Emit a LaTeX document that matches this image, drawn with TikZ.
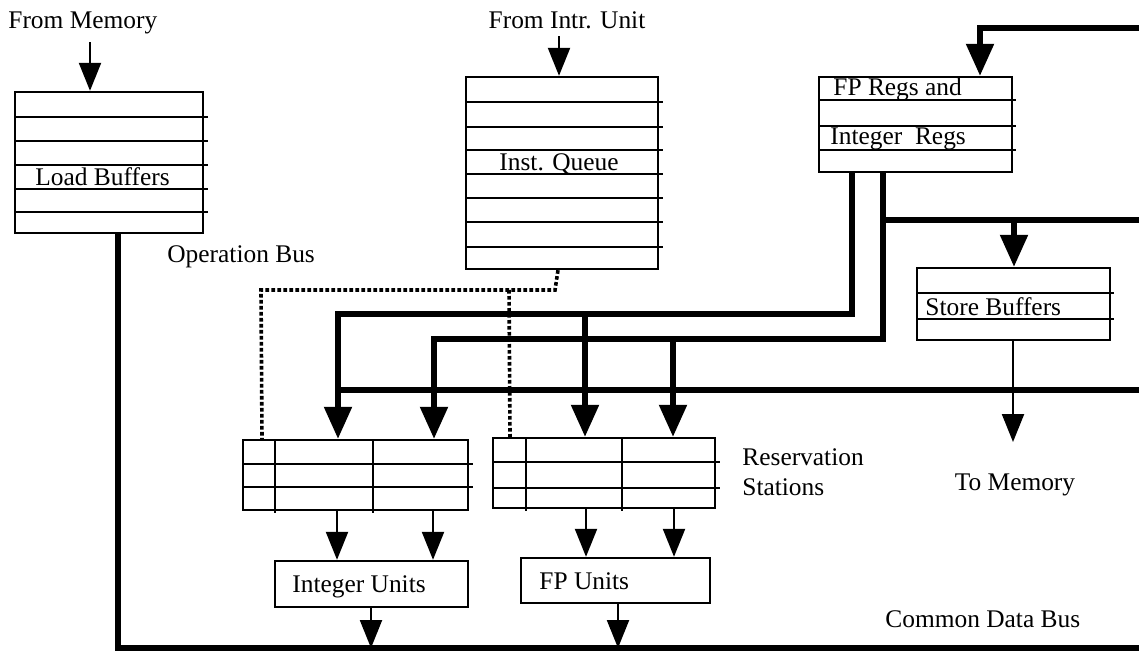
\documentclass[tikz,border=0pt]{standalone}
\usepackage{fontspec}
\setmainfont{Liberation Serif}
\usetikzlibrary{arrows.meta,fit}
\begin{document}
\begin{tikzpicture}[x=0.5pt,y=-0.5pt,
  box/.style={draw, line width=1.2pt, inner sep=0pt},
  rowline/.style={line width=1.2pt},
  lbl/.style={inner sep=0pt, font=\fontsize{12.7}{15}\selectfont},
  thinarr/.style={line width=1.1pt, -{Triangle[length=14pt,width=11pt]}},
  thickarr/.style={line width=2.7pt, -{Triangle[length=16pt,width=13.5pt]}},
  bus/.style={line width=2.7pt},
  opbus/.style={line width=1.8pt, dash pattern=on 1.8pt off 1.2pt}]
\useasboundingbox (0,0) rectangle (1139,653);

% ---- Load buffers
\node[lbl, anchor=base west] (fm) at (8,28) {From Memory};
\node[box, fit={(15,92) (203,233)}] (lb) {};
\foreach \y in {117,141,165,189,212} \draw[rowline] (15,\y) -- (208,\y);
\node[lbl, anchor=base west] (lbt) at (35,185) {Load Buffers};
\coordinate (a0) at (90,42);
\draw[thinarr] (a0) -- (a0 |- lb.north);

% ---- Instruction queue
\node[lbl, anchor=base] (fi) at (567,28) {From Intr. Unit};
\node[box, fit={(466,77) (658,269)}] (iq) {};
\foreach \y in {102,127,150,174,198,222,247} \draw[rowline] (466,\y) -- (663,\y);
\node[lbl, anchor=base west] (iqt) at (499,170) {Inst. Queue};
\coordinate (a1) at (559,36);
\draw[thinarr] (a1) -- (a1 |- iq.north);

% ---- Register file
\node[box, fit={(819,77) (1012,172)}] (fpr) {};
\foreach \y in {100,126,150} \draw[rowline] (819,\y) -- (1016,\y);
\node[lbl, anchor=base west] (fprt1) at (833,95) {FP Regs and};
\node[lbl, anchor=base west] (fprt2) at (830,144) {Integer\ \ Regs};
\coordinate (r0) at (1139,28);
\draw[thickarr] (r0) -| (fpr.north -| 980,0);

% ---- Store buffers
\node[box, fit={(917,268) (1110,340)}] (sb) {};
\foreach \y in {293,319} \draw[rowline] (917,\y) -- (1114,\y);
\node[lbl, anchor=base west] (sbt) at (925,315) {Store Buffers};
\coordinate (tm) at (1013,442);
\draw[thinarr] (sb.south -| tm) -- (tm);
\node[lbl, anchor=base] (tmt) at (1015,490) {To Memory};

% ---- Reservation stations
\node[box, fit={(243,440) (468,510)}] (irs) {};
\foreach \y in {464,487} \draw[rowline] (243,\y) -- (473,\y);
\foreach \x in {275,373} \draw[rowline] (\x,440) -- (\x,513);
\node[box, fit={(493,438) (715,508)}] (frs) {};
\foreach \y in {462,488} \draw[rowline] (493,\y) -- (720,\y);
\foreach \x in {526,622} \draw[rowline] (\x,438) -- (\x,511);
\node[lbl, anchor=base west] (rst1) at (742,465) {Reservation};
\node[lbl, anchor=base west] (rst2) at (742,495) {Stations};

% ---- Functional units
\node[box, fit={(275,561) (468,607)}] (iu) {};
\node[lbl, anchor=base west] (iut) at (292,592) {Integer Units};
\node[box, fit={(521,558) (710,603)}] (fu) {};
\node[lbl, anchor=base west] (fut) at (539,589) {FP Units};

\draw[thinarr] (irs.south -| 337,0) -- (iu.north -| 337,0);
\draw[thinarr] (irs.south -| 433,0) -- (iu.north -| 433,0);
\draw[thinarr] (frs.south -| 586,0) -- (fu.north -| 586,0);
\draw[thinarr] (frs.south -| 674,0) -- (fu.north -| 674,0);

% ---- Register buses to reservation stations
\draw[thickarr] (fpr.south -| 852,0) |- (338,314) -- (irs.north -| 338,0);
\draw[thickarr] (585,314) -- (frs.north -| 585,0);
\draw[thickarr] (fpr.south -| 883,0) |- (434,339) -- (irs.north -| 434,0);
\draw[thickarr] (673,339) -- (frs.north -| 673,0);
\draw[bus] (883,220) -- (1139,220);
\draw[thickarr] (1014,220) -- (sb.north -| 1014,0);
\draw[bus] (338,390) -- (1139,390);

% ---- Operation bus
\draw[opbus] (iq.south -| 558,0) -- (555,290) -- (261,290) -- (irs.north -| 262,0);
\draw[opbus] (509,290) -- (frs.north -| 510,0);
\node[lbl, anchor=base west] (obt) at (167,262) {Operation Bus};

% ---- Common data bus
\coordinate (cdbend) at (1139,648);
\draw[bus] (lb.south -| 118,0) |- (cdbend);
\draw[thinarr] (iu.south -| 371,0) -- (371,648);
\draw[thinarr] (fu.south -| 618,0) -- (618,648);
\node[lbl, anchor=base west] (cdbt) at (885,627) {Common Data Bus};
\end{tikzpicture}
\end{document}
